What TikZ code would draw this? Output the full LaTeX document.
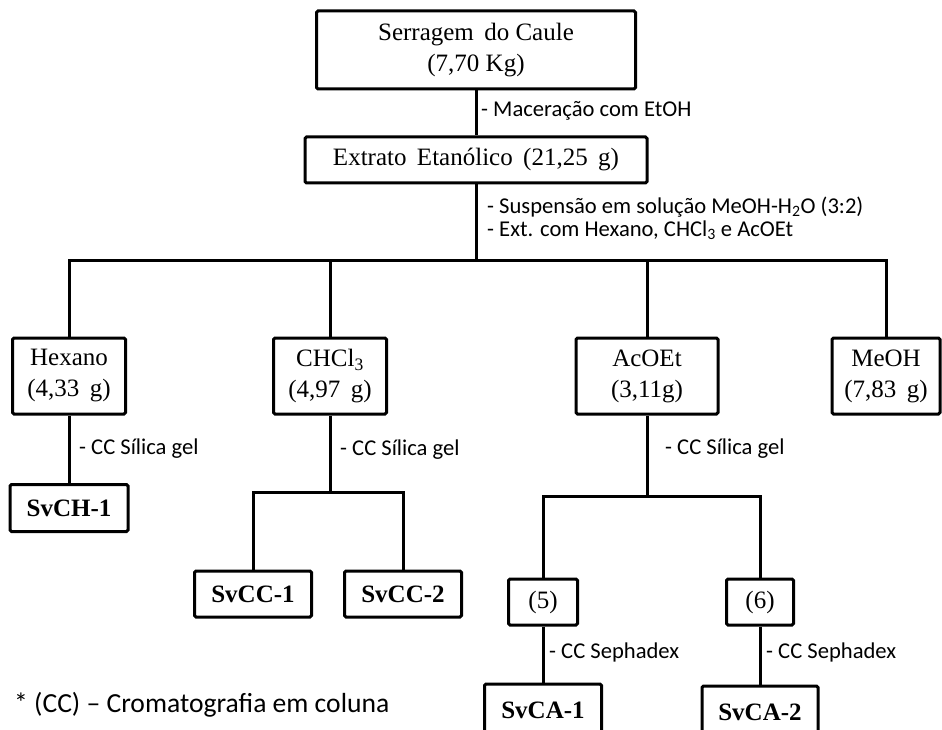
\documentclass[tikz,border=0pt]{standalone}
\usepackage{fontspec}
\setmainfont{Liberation Serif}
\newfontfamily\lblfont{Carlito}
\begin{document}
\begin{tikzpicture}[x=1pt,y=-1pt,
  box/.style={draw, line width=3pt, rounded corners=1.5pt, inner sep=0pt, align=center,
    font=\fontsize{25}{31}\selectfont},
  sv/.style={box, font=\fontsize{25}{30}\selectfont\bfseries},
  lbl/.style={anchor=west, inner sep=0pt, align=left,
    font=\lblfont\fontsize{22.6}{23}\selectfont},
  conn/.style={line width=3pt}]
\useasboundingbox (0,0) rectangle (942,730);
\clip (0,0) rectangle (942,730);
\fill[white] (0,0) rectangle (942,730);

% nodes
\node[box, minimum width=319pt, minimum height=78pt] (top) at (476,50) {Serragem\, do Caule\\(7,70 Kg)};
\node[box, minimum width=342pt, minimum height=46pt] (ext) at (476,160) {Extrato\, Etanólico\, (21,25\, g)};
\coordinate (bar) at (476,260);
\node[box, minimum width=113pt, minimum height=76pt] (hex) at (69,376) {Hexano\\(4,33\, g)};
\node[box, minimum width=113pt, minimum height=76pt] (chcl) at (330,376) {CHCl\textsubscript{3}\\(4,97\, g)};
\node[box, minimum width=142pt, minimum height=76pt] (acoet) at (647,376) {AcOEt\\(3,11g)};
\node[box, minimum width=108pt, minimum height=76pt] (meoh) at (886,376) {MeOH\\(7,83\, g)};

\node[sv, minimum width=118pt, minimum height=47pt] (svch) at (69,508) {SvCH-1};

\coordinate (cb) at (330,492);
\node[sv, minimum width=117pt, minimum height=46pt] (svcc1) at (253,594) {SvCC-1};
\node[sv, minimum width=117pt, minimum height=46pt] (svcc2) at (403,594) {SvCC-2};

\coordinate (ab) at (647,496);
\node[box, minimum width=69pt, minimum height=46pt] (p5) at (543,602) {(5)};
\node[box, minimum width=67pt, minimum height=46pt] (p6) at (760,602) {(6)};
\node[sv, minimum width=117pt, minimum height=52pt] (svca1) at (543,710) {SvCA-1};
\node[sv, minimum width=116pt, minimum height=52pt] (svca2) at (760,712) {SvCA-2};

% connectors
\draw[conn] (top) -- (ext);
\draw[conn] (ext) -- (bar);
\draw[conn] (hex.north) |- (bar);
\draw[conn] (meoh.north) |- (bar);
\draw[conn] (chcl.north) -- (chcl.north |- bar);
\draw[conn] (acoet.north) -- (acoet.north |- bar);
\draw[conn] (hex) -- (svch);
\draw[conn] (chcl) -- (cb);
\draw[conn] (svcc1.north) |- (cb);
\draw[conn] (svcc2.north) |- (cb);
\draw[conn] (acoet) -- (ab);
\draw[conn] (p5.north) |- (ab);
\draw[conn] (p6.north) |- (ab);
\draw[conn] (p5) -- (svca1);
\draw[conn] (p6) -- (svca2);

% labels
\node[lbl] (l1) at (481,111) {- Maceração com EtOH};
\node[lbl] (l2) at (487,218) {- Suspensão em solução MeOH-H\textsubscript{2}O (3:2)\\- Ext. com Hexano, CHCl\textsubscript{3} e AcOEt};
\node[lbl] (l3) at (79,449) {- CC Sílica gel};
\node[lbl] (l4) at (340,450) {- CC Sílica gel};
\node[lbl] (l5) at (665,449) {- CC Sílica gel};
\node[lbl] (l6) at (549,652) {- CC Sephadex};
\node[lbl] (l7) at (766,652) {- CC Sephadex};
\node[anchor=west, inner sep=0pt, font=\lblfont\fontsize{27.6}{30}\selectfont] (foot) at (14,705) {* (CC) – Cromatografia em coluna};
\end{tikzpicture}
\end{document}
